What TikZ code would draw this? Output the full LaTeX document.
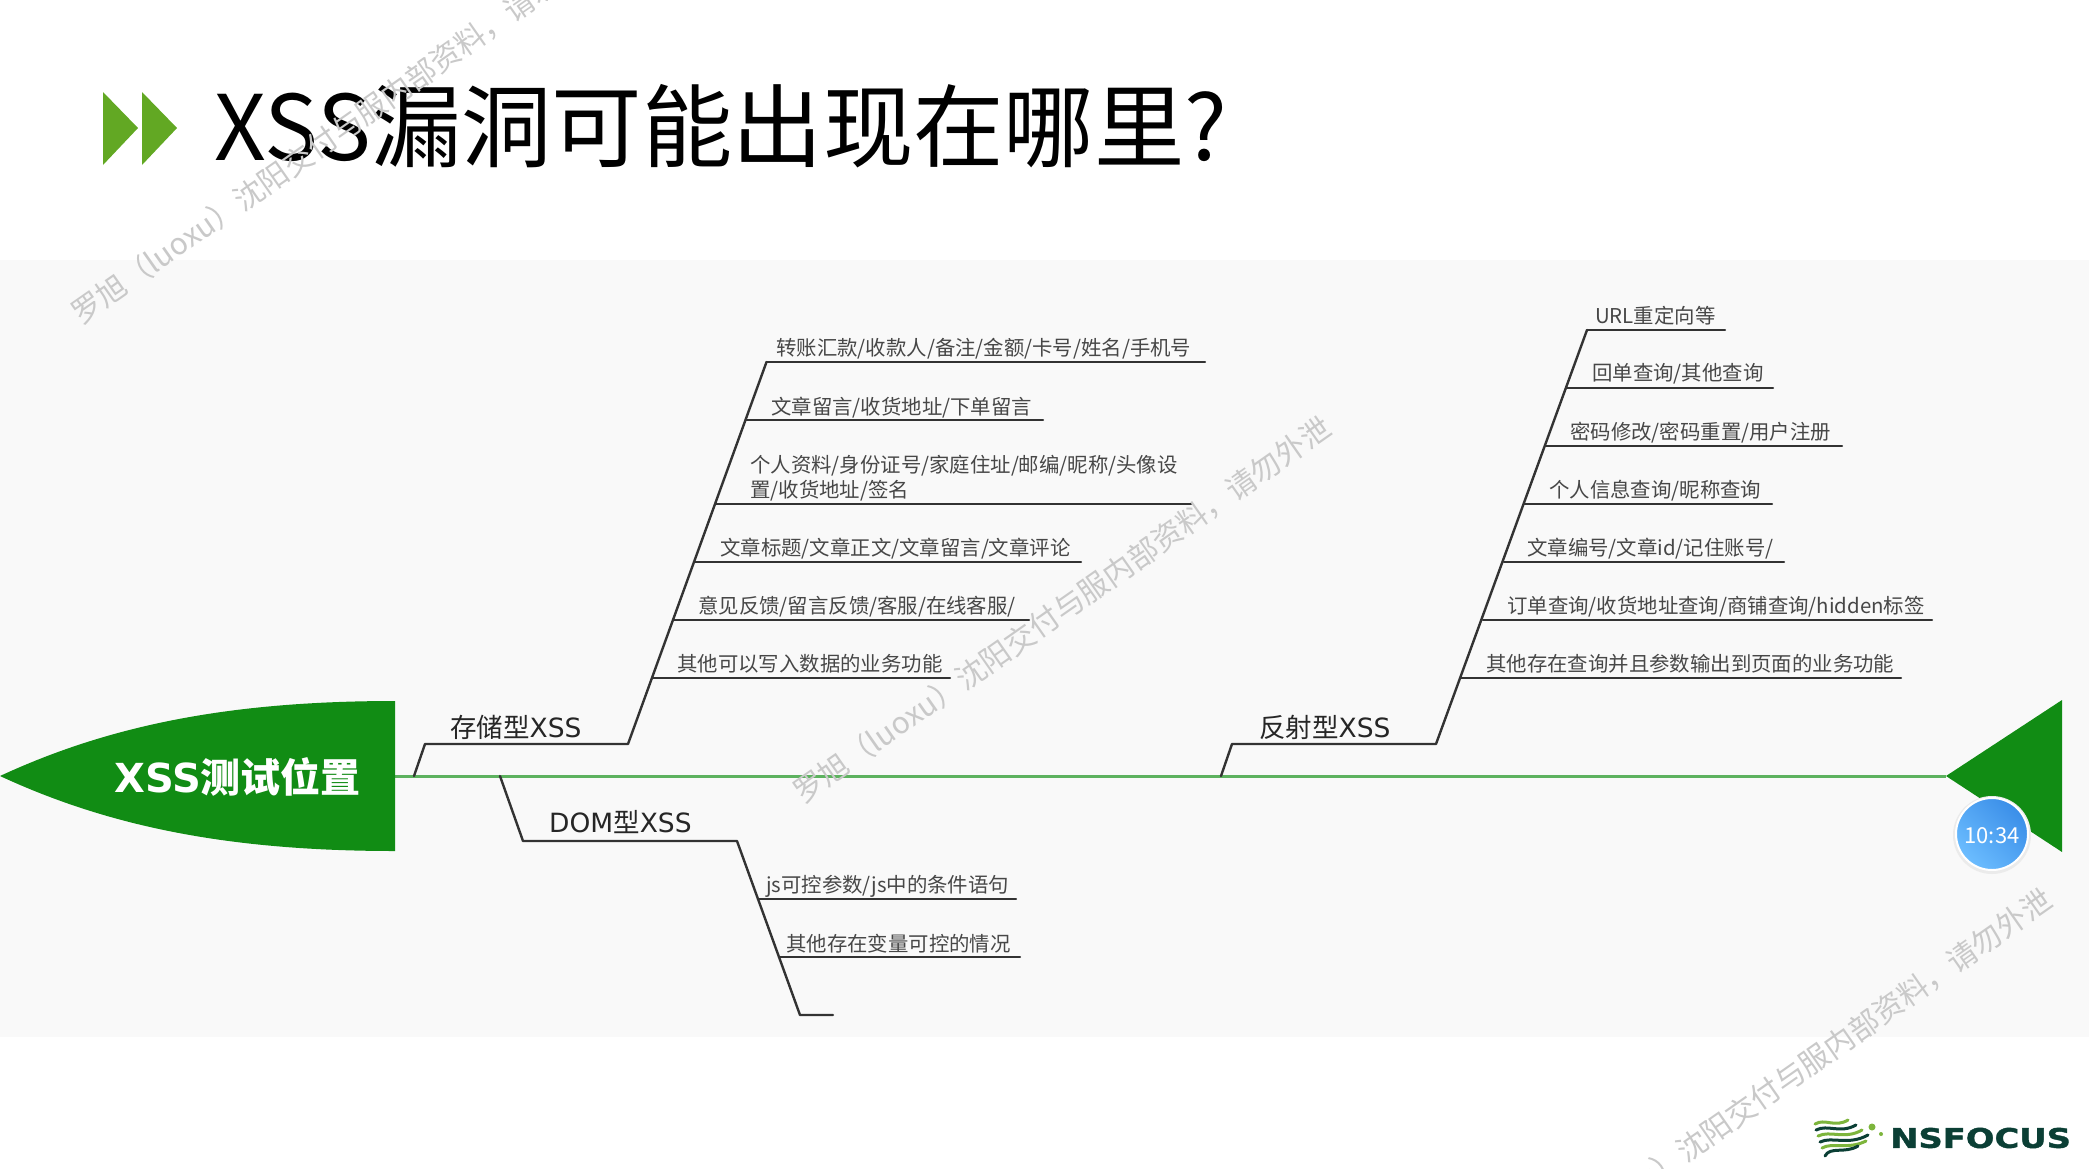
\documentclass[tikz,border=0pt]{standalone}
\usepackage{fontspec}
\setmainfont{Noto Sans CJK SC}
\newfontfamily\logofont{DejaVu Sans}[BoldFeatures={FakeStretch=1.25,FakeBold=1.5}]
\newfontfamily\latfont{DejaVu Sans}
\definecolor{panel}{HTML}{F9F9F9}
\definecolor{fishgreen}{HTML}{118C14}
\definecolor{spinegreen}{HTML}{5DB25F}
\definecolor{chev}{HTML}{62A823}
\definecolor{bone}{HTML}{333333}
\definecolor{wm}{HTML}{C9C9C9}
\definecolor{logodark}{HTML}{0B3F35}
\definecolor{logolight}{HTML}{7DB53C}
\definecolor{timerlight}{HTML}{6CBDFF}
\definecolor{timerdark}{HTML}{3A8EE8}
\tikzset{
  x=1pt,y=-1pt,
  bonel/.style={draw=bone,line width=2.4pt,line cap=round,line join=round},
  leaf/.style={anchor=west,inner sep=0pt,font=\fontsize{20.4}{25}\selectfont,text=black!72},
  branchlabel/.style={anchor=west,inner sep=0pt,font=\fontsize{26.5}{30}\selectfont,text=black!85},
  wmark/.style={rotate=35,inner sep=0pt,text=wm,font=\fontsize{30}{36}\selectfont},
  flagd/.style={draw=logodark,line width=3pt,line cap=round},
  flagl/.style={draw=logolight,line width=3pt,line cap=round},
}
\begin{document}
\begin{tikzpicture}
\useasboundingbox (0,0) rectangle (2089,1168);
\clip (0,0) rectangle (2089,1168);
\fill[white] (0,0) rectangle (2089,1168);
\fill[panel] (0,260) rectangle (2089,1037);
% title
\fill[chev] (103,92) -- (138,128) -- (103,165) -- cycle;
\fill[chev] (142,92) -- (177,128) -- (142,165) -- cycle;
\node[anchor=west,inner sep=0pt,font=\fontsize{90.4}{100}\selectfont] (title) at (214,126) {XSS漏洞可能出现在哪里?};
% spine
\coordinate (spineL) at (395,776);
\coordinate (spineR) at (1946,776);
\draw[spinegreen,line width=3pt] (spineL) -- (spineR);
% head
\fill[fishgreen] (0,776) .. controls (110,725) and (230,701) .. (395,701) -- (395,851) .. controls (230,851) and (110,827) .. (0,776) -- cycle;
\node[anchor=west,inner sep=0pt,text=white,font=\bfseries\fontsize{40}{44}\selectfont] (head) at (114,777) {{\latfont\bfseries XSS}测试位置};
% tail
\fill[fishgreen] (1946,776) -- (2062,700) -- (2062,852) -- cycle;
% timer
\fill[black!8] (1992,835) circle (39);
\node[circle,minimum size=72pt,inner sep=0pt,draw=white,line width=2pt,shading=axis,top color=timerdark,bottom color=timerlight,shading angle=-45,
  text=white,font=\fontsize{22}{26}\selectfont] (timer) at (1992,834) {\raisebox{-9.5pt}[0pt][0pt]{10:34}};
% storage branch
\coordinate (sa) at (414,776); \coordinate (sb) at (425,744);
\coordinate (sc) at (628,744); \coordinate (sd) at (766.5,362);
\draw[bonel] (sa) -- (sb) -- (sc) -- (sd);
\node[branchlabel] (sl) at (450,727) {存储型{\latfont XSS}};
\foreach \n/\xa/\xb/\yy in {s1/766.5/1205/362,s2/746/1043/420,s3/716/1191/504,s4/695/1081/562,s5/674/1029/620,s6/653/950/678}{
  \coordinate (\n a) at (\xa,\yy); \coordinate (\n b) at (\xb,\yy);
  \draw[bonel] (\n a) -- (\n b);
}
\node[leaf] (t1) at (776,349) {转账汇款/收款人/备注/金额/卡号/姓名/手机号};
\node[leaf] (t2) at (771,408) {文章留言/收货地址/下单留言};
\node[leaf] (t3a) at (750,466) {个人资料/身份证号/家庭住址/邮编/昵称/头像设};
\node[leaf] (t3b) at (750,491) {置/收货地址/签名};
\node[leaf] (t4) at (720,549) {文章标题/文章正文/文章留言/文章评论};
\node[leaf] (t5) at (698,607) {意见反馈/留言反馈/客服/在线客服/};
\node[leaf] (t6) at (677,664) {其他可以写入数据的业务功能};
% reflected branch
\coordinate (ra) at (1221,776); \coordinate (rb) at (1232,744);
\coordinate (rc) at (1436,744); \coordinate (rd) at (1587,330);
\draw[bonel] (ra) -- (rb) -- (rc) -- (rd);
\node[branchlabel] (rl) at (1259,727) {反射型{\latfont XSS}};
\foreach \n/\xa/\xb/\yy in {r1/1587/1725/330,r2/1567/1773/388,r3/1546/1842/446,r4/1524/1772/504,r5/1504/1784/562,r6/1483/1932/620,r7/1461.5/1901/678}{
  \coordinate (\n a) at (\xa,\yy); \coordinate (\n b) at (\xb,\yy);
  \draw[bonel] (\n a) -- (\n b);
}
\node[leaf] (u1) at (1595,316) {URL重定向等};
\node[leaf] (u2) at (1592,374) {回单查询/其他查询};
\node[leaf] (u3) at (1570,433) {密码修改/密码重置/用户注册};
\node[leaf] (u4) at (1549,491) {个人信息查询/昵称查询};
\node[leaf] (u5) at (1527,549) {文章编号/文章id/记住账号/};
\node[leaf] (u6) at (1507,607) {订单查询/收货地址查询/商铺查询/hidden标签};
\node[leaf] (u7) at (1486,664) {其他存在查询并且参数输出到页面的业务功能};
% DOM branch
\coordinate (da) at (500,776); \coordinate (db) at (523,841);
\coordinate (dc) at (737,841); \coordinate (dd) at (800,1015); \coordinate (de) at (833,1015);
\draw[bonel] (da) -- (db) -- (dc) -- (dd) -- (de);
\node[branchlabel] (dl) at (549,822) {{\latfont DOM}型{\latfont XSS}};
\foreach \n/\xa/\xb/\yy in {d1/758/1016/899,d2/779/1020/957}{
  \coordinate (\n a) at (\xa,\yy); \coordinate (\n b) at (\xb,\yy);
  \draw[bonel] (\n a) -- (\n b);
}
\node[leaf] (v1) at (766,886) {js可控参数/js中的条件语句};
\node[leaf] (v2) at (786,944) {其他存在变量可控的情况};
% logo
\draw[flagl] (1815,1124) .. controls (1825,1118) and (1835,1128) .. (1848,1120);
\draw[flagd] (1816,1130) .. controls (1828,1124) and (1840,1134) .. (1856,1125);
\draw[flagl] (1818,1136) .. controls (1830,1130) and (1845,1140) .. (1862,1130);
\draw[flagd] (1820,1142) .. controls (1832,1136) and (1848,1146) .. (1868,1135);
\draw[flagl] (1822,1148) .. controls (1832,1142) and (1848,1150) .. (1866,1141);
\draw[flagd] (1825,1156) .. controls (1830,1146) and (1845,1154) .. (1858,1146);
\fill[logolight] (1872,1127) circle (3.5);
\fill[logolight] (1881,1134) circle (2);
\node[anchor=west,inner sep=0pt,text=logodark,font=\logofont\bfseries\fontsize{27}{30}\selectfont] (logo) at (1890,1138) {NSFOCUS};
% watermarks
\node[wmark] (w1) at (340,131) {罗旭（luoxu）沈阳交付与服内部资料，请勿外泄};
\node[wmark] (w2) at (1062,610) {罗旭（luoxu）沈阳交付与服内部资料，请勿外泄};
\node[wmark] (w3) at (1783,1082) {罗旭（luoxu）沈阳交付与服内部资料，请勿外泄};
\end{tikzpicture}
\end{document}
